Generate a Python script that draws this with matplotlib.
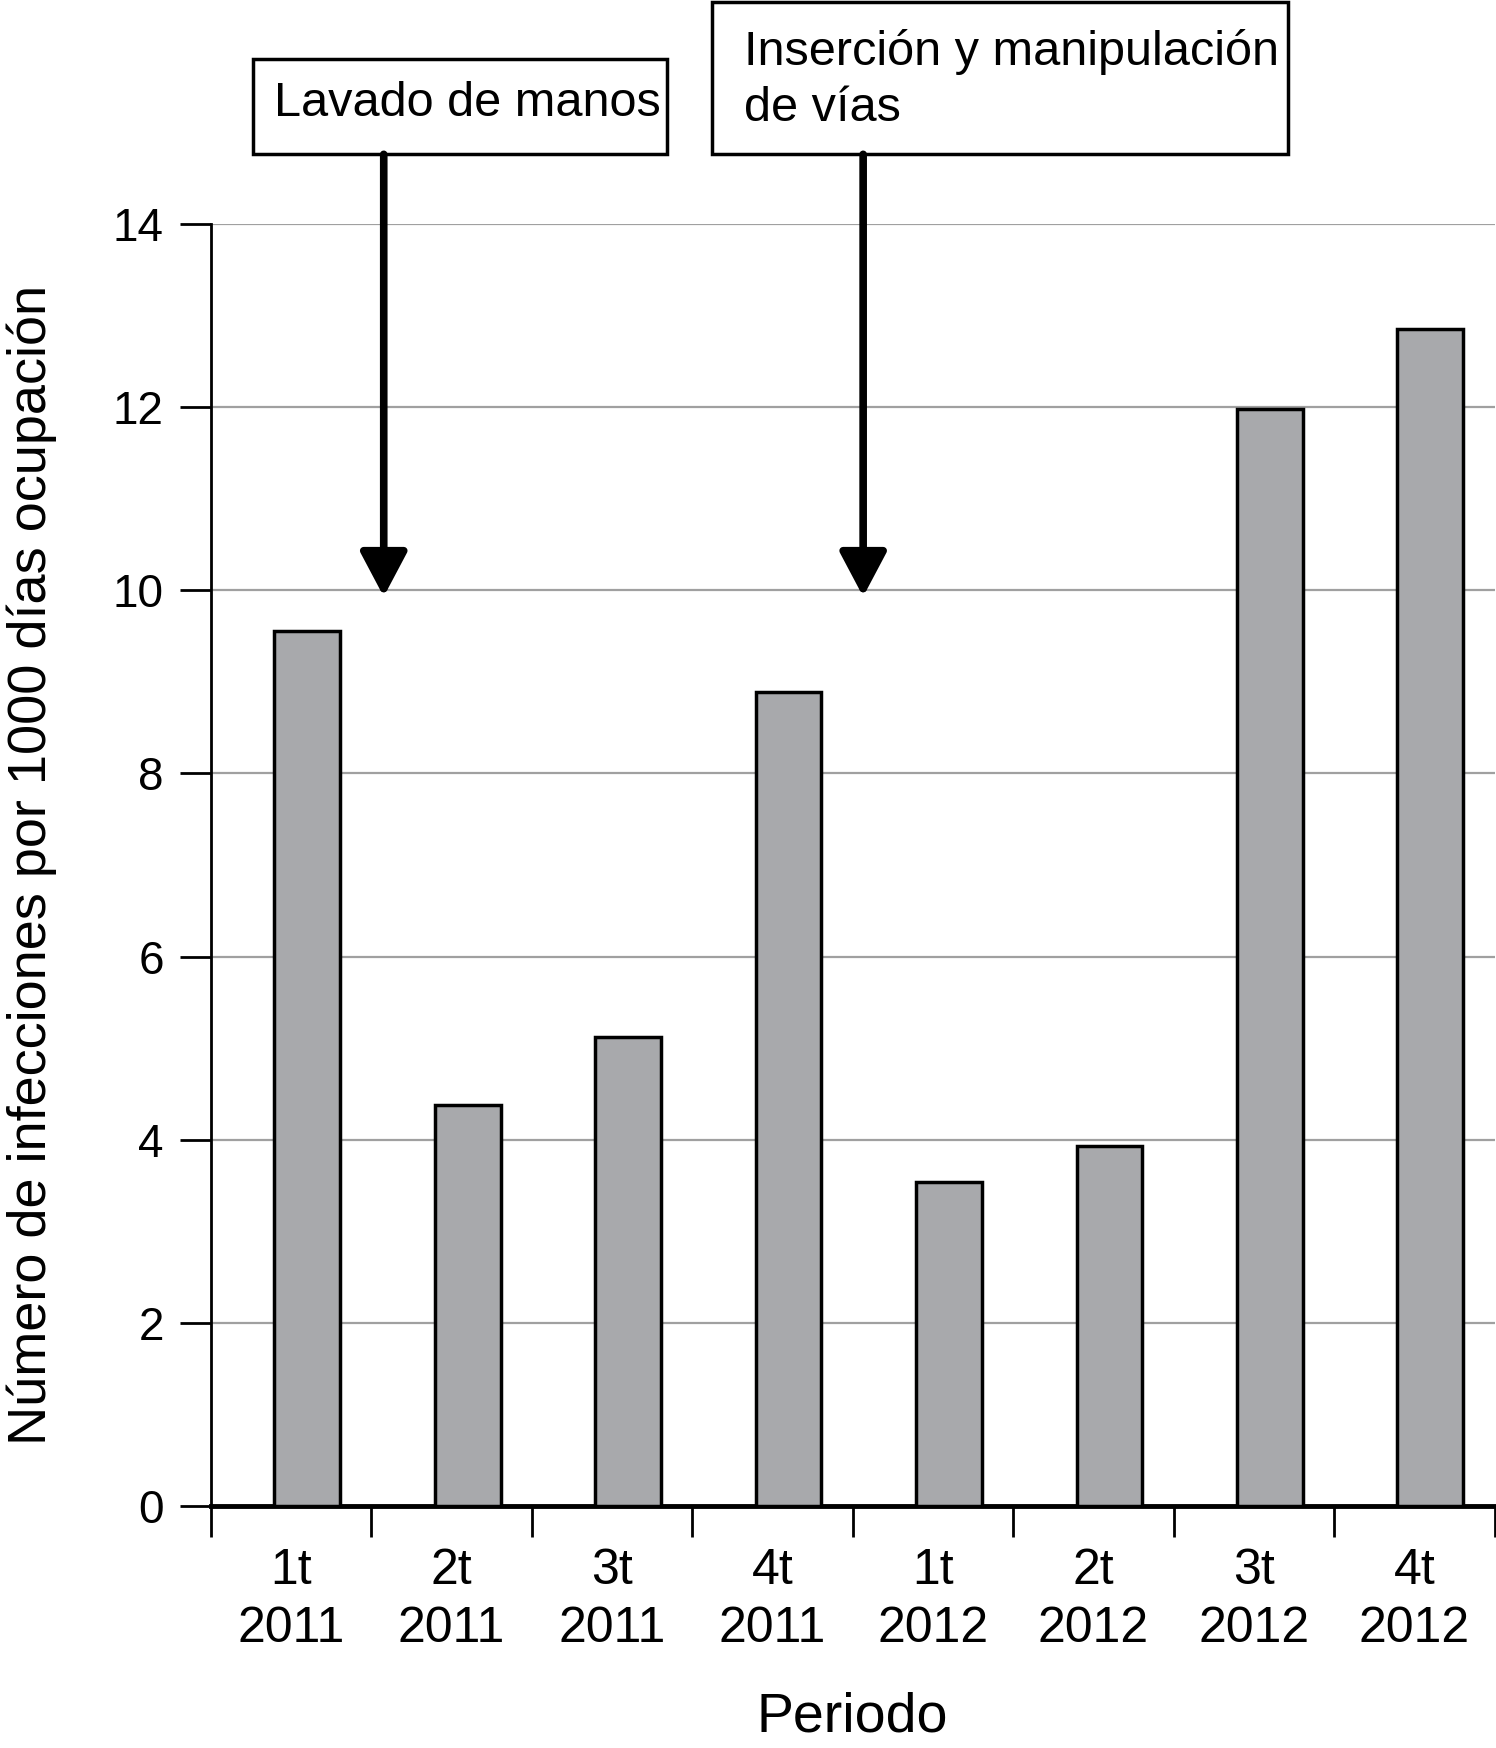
import matplotlib.pyplot as plt
from matplotlib.patches import Rectangle

# Data
periodos = ['1t\n2011', '2t\n2011', '3t\n2011', '4t\n2011',
            '1t\n2012', '2t\n2012', '3t\n2012', '4t\n2012']
tasas = [9.56, 4.38, 5.12, 8.89, 3.54, 3.93, 11.98, 12.85]
intervenciones = ['Lavado de manos', 'Inserción y manipulación\nde vías']
pos_intervencion = [0.577, 3.565]

plt.rcParams['font.family'] = ['Liberation Sans', 'DejaVu Sans']

fig = plt.figure(figsize=(14.96, 17.48), dpi=100)
ax = fig.add_axes([0.141, 0.1384, 0.858, 0.7335])

x = list(range(len(periodos)))
ax.bar([i + 0.1 for i in x], tasas, width=0.41, color='#a8a9ac',
       edgecolor='black', linewidth=2.5, zorder=3)

ax.set_xlim(-0.5, 7.5)
ax.set_ylim(0, 14)
ax.set_yticks(range(0, 15, 2))
ax.yaxis.grid(True, color='#a0a0a0', linewidth=1.6, zorder=0)
ax.set_xticks([i - 0.5 for i in range(9)])
ax.set_xticklabels([])
ax.set_xticks(x, minor=True)
ax.set_xticklabels(periodos, minor=True, fontsize=36, linespacing=1.35)
ax.tick_params(axis='x', which='major', length=22, width=2, direction='out')
ax.tick_params(axis='x', which='minor', length=0, pad=30)
ax.tick_params(axis='y', length=22, width=2, labelsize=33, pad=12)

for s in ['top', 'right']:
    ax.spines[s].set_visible(False)
ax.spines['left'].set_linewidth(2)
ax.spines['bottom'].set_linewidth(3.5)

ax.set_ylabel('Número de infecciones por 1000 días ocupación', fontsize=39, labelpad=40)
ax.set_xlabel('Periodo', fontsize=40, labelpad=28)

# Annotation boxes
ax.add_patch(Rectangle((-0.236, 14.76), 2.578, 1.04, fill=False, edgecolor='black',
                       linewidth=2.5, clip_on=False))
ax.add_patch(Rectangle((2.62, 14.76), 3.593, 1.66, fill=False, edgecolor='black',
                       linewidth=2.5, clip_on=False))
ax.text(-0.104, 15.31, intervenciones[0], fontsize=35, va='center', ha='left')
ax.text(2.82, 15.57, intervenciones[1], fontsize=35, va='center', ha='left',
        linespacing=1.3)

for px in pos_intervencion:
    ax.annotate('', xy=(px, 9.93), xytext=(px, 14.76),
                arrowprops=dict(arrowstyle='-|>,head_width=0.45,head_length=0.85',
                                lw=5.5, color='black', mutation_scale=32,
                                shrinkA=0, shrinkB=0),
                annotation_clip=False)

fig.savefig('out.png', dpi=100)
